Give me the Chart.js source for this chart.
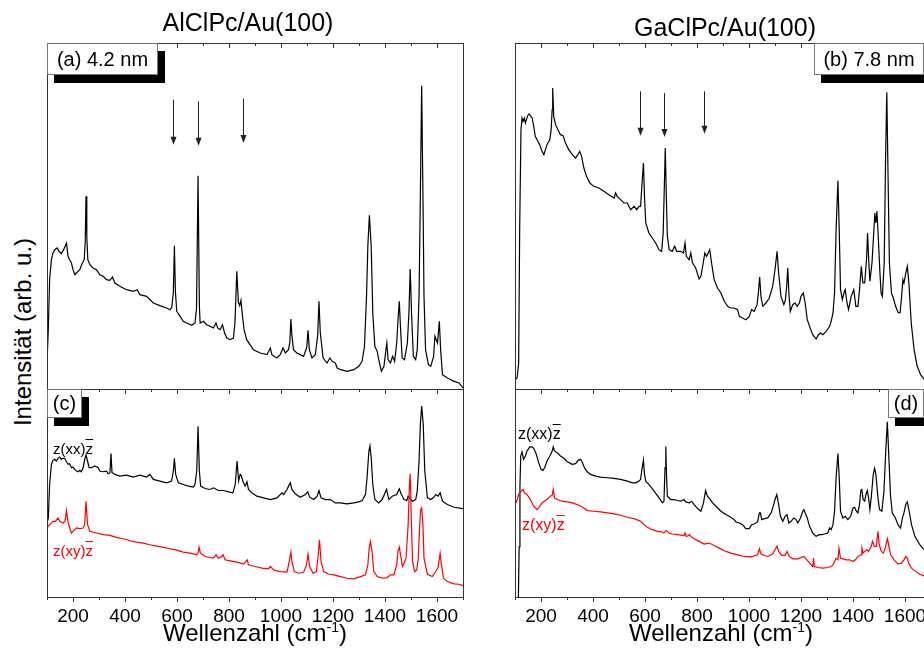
<!DOCTYPE html>
<html>
<head>
<meta charset="utf-8">
<script src="https://cdn.jsdelivr.net/npm/chart.js@4.4.1/dist/chart.umd.min.js"></script>
<style>
  html,body{margin:0;padding:0;background:#fff;}
  body{width:924px;height:657px;overflow:hidden;position:relative;font-family:"Liberation Sans",Arial,sans-serif;}
  .cv{position:absolute;}
  .txt{position:absolute;white-space:nowrap;color:#000;line-height:1;}
  .box{position:absolute;background:#fff;border:1px solid #777;box-sizing:border-box;box-shadow:7px 8px 0 #000;
       font-size:20px;display:flex;align-items:center;justify-content:center;}
  .ov{text-decoration:overline;}
</style>
</head>
<body>
<canvas id="ca" class="cv" width="436" height="366" style="left:37px;top:33px"></canvas>
<canvas id="cc" class="cv" width="436" height="278" style="left:37px;top:379px"></canvas>
<canvas id="cb" class="cv" width="436" height="366" style="left:505px;top:33px"></canvas>
<canvas id="cd" class="cv" width="436" height="278" style="left:505px;top:379px"></canvas>

<div class="txt" style="left:248px;top:22px;transform:translate(-50%,-50%);font-size:25px;">AlClPc/Au(100)</div>
<div class="txt" style="left:725px;top:27px;transform:translate(-50%,-50%);font-size:25px;">GaClPc/Au(100)</div>
<div class="txt" style="left:23px;top:332px;transform:translate(-50%,-50%) rotate(-90deg);font-size:24px;">Intensität (arb. u.)</div>
<div class="txt" style="left:255px;top:632px;transform:translate(-50%,-50%);font-size:24px;">Wellenzahl (cm<sup style="font-size:14px">-1</sup>)</div>
<div class="txt" style="left:721px;top:632px;transform:translate(-50%,-50%);font-size:24px;">Wellenzahl (cm<sup style="font-size:14px">-1</sup>)</div>

<div class="box" style="left:47px;top:43px;width:111px;height:32px;">(a) 4.2 nm</div>
<div class="box" style="left:814px;top:43px;width:110px;height:32px;">(b) 7.8 nm</div>
<div class="box" style="left:47px;top:389px;width:35px;height:29px;">(c)</div>
<div class="box" style="left:888px;top:389px;width:36px;height:29px;">(d)</div>

<div class="txt" style="left:53px;top:441px;font-size:15px;">z(xx)<span class="ov">z</span></div>
<div class="txt" style="left:53px;top:543px;font-size:15px;color:#ff0000;">z(xy)<span class="ov">z</span></div>
<div class="txt" style="left:518px;top:426px;font-size:16px;">z(xx)<span class="ov">z</span></div>
<div class="txt" style="left:522px;top:517px;font-size:16px;color:#ff0000;">z(xy)<span class="ov">z</span></div>

<script>
// ---- tick labels ----
const tickLabels = [200, 400, 600, 800, 1000, 1200, 1400, 1600];
const minorTicks = [100, 300, 500, 700, 900, 1100, 1300, 1500, 1700];

// ---- (a) AlClPc/Au(100), 4.2 nm ----
const aX = [100,105,110,117,123,130,139,146,155,164,175,181,187,194,200,207,213,226,236,243,247,250,253,257,265,277,290,303,316,329,342,352,361,380,406,432,447,457,483,509,534,560,573,580,586,590,594,599,612,624,637,657,669,675,681,686,689,702,714,727,740,750,757,766,775,783,792,804,817,823,830,836,841,846,851,858,868,881,894,920,946,959,965,984,997,1008,1017,1029,1034,1038,1042,1048,1061,1087,1099,1104,1109,1119,1132,1141,1146,1151,1162,1177,1188,1197,1209,1216,1229,1254,1280,1299,1312,1321,1329,1334,1340,1347,1353,1361,1370,1376,1386,1396,1402,1407,1412,1421,1429,1437,1445,1450,1455,1460,1466,1475,1486,1492,1497,1502,1509,1518,1524,1531,1536,1541,1546,1550,1556,1567,1576,1587,1592,1602,1609,1614,1621,1640,1666,1685,1700];
const aY = [78,178,328,388,408,418,423,413,406,418,438,398,388,378,358,343,348,358,378,388,440,578,460,388,373,363,358,343,338,328,326,336,318,308,298,293,298,283,278,258,250,243,238,245,290,430,290,233,218,203,198,191,198,240,640,250,198,203,193,188,183,198,183,178,193,168,153,148,153,200,353,260,250,266,225,178,148,133,118,108,103,123,103,93,103,123,108,118,140,210,160,118,108,98,125,176,118,93,103,160,263,170,93,78,93,83,78,63,58,53,58,68,83,128,278,428,521,428,228,128,113,88,53,68,108,138,88,78,98,83,138,208,263,178,93,88,138,228,360,228,98,88,118,278,578,910,578,278,118,73,68,98,158,138,203,118,43,33,23,18,3];
const aArrowX = [586, 682, 852];
const aArrowFrom = [868, 863, 871];
const aArrowTo = [733, 730, 738];

// ---- (b) GaClPc/Au(100), 7.8 nm ----
const bX = [100,108,114,118,123,127,131,136,140,144,149,154,159,166,172,178,185,195,204,211,217,223,234,239,243,245,249,256,265,275,285,294,307,320,333,342,349,356,365,375,388,403,423,442,461,481,487,493,506,519,532,545,558,568,577,583,588,594,598,603,615,628,641,654,664,670,675,678,682,686,693,705,714,722,738,748,754,759,770,776,783,795,808,815,824,830,837,843,849,856,866,879,892,905,918,930,943,956,963,975,988,1001,1010,1020,1031,1036,1041,1046,1053,1065,1078,1091,1100,1108,1114,1123,1134,1140,1145,1149,1154,1159,1168,1177,1185,1194,1200,1209,1216,1224,1233,1245,1258,1267,1275,1284,1297,1310,1316,1323,1329,1335,1342,1347,1352,1359,1365,1370,1377,1383,1393,1403,1411,1419,1425,1432,1438,1445,1452,1456,1461,1465,1473,1479,1484,1488,1492,1497,1503,1508,1513,1520,1525,1530,1535,1540,1548,1555,1564,1573,1581,1587,1592,1596,1603,1609,1615,1624,1635,1647,1660,1675,1700];
const bY = [28,33,78,478,778,813,803,813,798,808,820,825,820,813,788,758,748,733,713,703,718,733,748,778,838,903,818,793,778,763,760,738,718,703,693,703,713,698,663,638,618,608,603,593,583,573,588,578,568,558,558,538,548,538,548,548,610,678,578,498,468,453,438,418,413,470,628,723,578,458,418,413,428,413,413,408,438,398,388,408,378,363,330,338,378,408,398,408,418,378,328,303,288,263,248,243,243,238,218,213,208,218,238,233,253,288,336,278,248,258,273,308,358,413,348,278,253,268,308,363,278,233,253,258,248,258,278,288,258,208,188,163,150,163,168,163,173,188,203,228,288,478,625,478,298,268,288,298,258,238,278,298,248,248,298,368,318,318,388,468,378,323,378,458,528,498,533,458,358,288,278,378,678,890,628,378,288,273,248,230,228,278,328,318,348,368,318,198,118,68,43,28,15];
const bArrowX = [579, 674, 828];
const bArrowFrom = [893, 888, 893];
const bArrowTo = [760, 756, 766];

// ---- (c) AlClPc polarised: z(xx)z̄ (black), z(xy)z̄ (red) ----
const cXxX = [100,105,110,117,123,130,136,142,149,155,162,168,175,181,187,194,200,207,213,220,226,232,239,245,250,256,262,271,284,297,303,316,329,335,342,346,350,361,380,406,432,457,483,496,509,534,560,579,586,590,595,605,624,644,663,669,676,681,686,691,708,727,740,759,779,798,815,824,831,837,843,848,853,862,869,875,888,907,933,959,984,1004,1010,1023,1029,1036,1042,1055,1074,1094,1103,1110,1126,1139,1146,1154,1171,1190,1209,1229,1254,1280,1299,1312,1325,1331,1338,1342,1347,1353,1361,1376,1389,1406,1415,1428,1445,1455,1463,1473,1484,1489,1494,1505,1518,1524,1531,1536,1541,1547,1553,1563,1576,1586,1595,1604,1612,1621,1640,1666,1700];
const cXxY = [221,236,336,396,408,411,406,414,418,411,414,414,404,396,398,386,388,381,376,374,378,374,386,411,424,406,386,386,391,386,376,374,376,368,371,428,372,366,361,364,358,364,358,366,351,346,341,346,376,414,366,341,336,331,328,336,376,510,376,331,324,321,326,318,318,314,311,336,406,346,366,361,346,331,344,321,311,301,296,291,296,311,306,321,331,341,321,308,298,306,314,298,291,301,318,296,291,291,281,281,278,281,284,288,306,356,436,451,416,336,291,281,291,321,291,301,306,323,306,291,288,301,296,286,291,316,406,516,570,516,376,296,291,296,306,301,311,286,276,268,264];
const cXyX = [100,110,123,133,142,149,162,169,175,181,194,200,213,226,239,245,250,256,265,290,316,342,367,393,419,445,470,496,522,547,573,599,624,650,676,681,685,690,708,727,740,750,759,772,777,785,804,830,856,870,875,901,927,952,959,972,997,1023,1029,1038,1042,1051,1068,1087,1098,1104,1110,1123,1136,1142,1148,1154,1164,1184,1203,1229,1254,1280,1306,1325,1334,1339,1344,1350,1357,1370,1383,1396,1409,1421,1434,1445,1450,1455,1460,1467,1473,1481,1489,1494,1497,1501,1506,1514,1522,1528,1533,1537,1541,1546,1550,1563,1582,1595,1604,1612,1617,1625,1640,1666,1685,1700];
const cXyY = [206,216,226,226,236,226,221,226,258,221,191,196,206,204,206,216,286,216,196,191,186,184,178,174,168,164,161,156,152,148,144,140,134,131,126,131,149,131,121,118,116,126,116,121,126,111,108,104,98,111,96,91,86,84,91,81,76,74,96,134,106,76,71,74,96,128,91,71,76,116,171,106,76,68,66,61,56,54,61,66,96,146,166,136,76,61,58,56,58,66,66,96,136,149,126,91,101,116,216,336,368,236,106,76,81,116,206,261,266,216,116,68,61,76,88,131,96,56,46,39,38,34];

// ---- (d) GaClPc polarised: z(xx)z̄ (black), z(xy)z̄ (red) ----
const dXxX = [113,116,119,122,127,133,140,146,157,166,172,182,191,200,208,214,223,234,243,247,252,262,275,288,301,320,333,343,352,358,367,378,391,410,429,455,481,506,532,551,564,577,583,588,594,598,603,615,635,654,667,673,677,680,683,686,699,712,725,738,750,757,770,779,789,802,815,825,833,840,851,860,873,892,911,924,943,950,963,975,988,1001,1010,1020,1033,1040,1044,1049,1059,1072,1085,1095,1100,1107,1113,1121,1130,1139,1146,1153,1162,1172,1181,1188,1198,1207,1211,1216,1224,1233,1245,1258,1271,1280,1290,1303,1310,1316,1323,1329,1335,1342,1347,1352,1361,1370,1380,1391,1400,1406,1413,1419,1425,1430,1434,1439,1445,1450,1455,1460,1465,1470,1478,1483,1488,1496,1502,1511,1519,1526,1532,1538,1544,1551,1563,1573,1583,1590,1596,1603,1609,1616,1625,1638,1657,1670,1679,1700];
const dXxY = [0,150,330,420,433,411,421,436,448,448,444,426,401,381,378,386,406,421,436,448,436,431,421,414,404,396,398,408,411,404,386,374,366,361,358,356,354,351,346,341,341,346,351,380,409,366,346,336,316,296,281,286,386,449,356,301,291,291,288,286,291,284,281,286,276,264,256,281,318,301,291,281,271,256,246,241,231,224,221,216,204,204,216,218,224,251,251,231,234,236,251,276,291,306,281,241,226,241,246,221,226,236,231,221,236,256,261,251,236,211,191,181,186,186,188,191,206,201,216,256,356,428,356,256,236,241,231,241,266,268,256,251,276,318,321,291,286,306,318,296,261,296,366,384,366,296,261,256,316,436,523,416,306,251,236,216,206,236,251,276,284,256,216,181,156,144,141,135];
const dXyX = [105,114,123,131,136,146,159,172,185,191,204,223,236,243,247,252,262,281,301,320,346,365,378,403,429,455,481,506,532,558,583,596,609,628,648,667,673,681,686,693,705,725,750,754,759,766,771,776,789,808,827,847,866,885,905,930,956,982,1008,1033,1040,1046,1059,1072,1091,1100,1108,1114,1126,1139,1146,1155,1168,1188,1207,1211,1220,1233,1245,1248,1251,1265,1284,1303,1316,1323,1329,1335,1342,1346,1352,1361,1374,1387,1400,1409,1419,1432,1434,1439,1445,1454,1460,1470,1475,1482,1490,1496,1501,1509,1517,1524,1532,1537,1545,1558,1573,1586,1596,1603,1609,1614,1625,1638,1657,1679,1700];
const dXyY = [281,306,316,321,311,306,291,271,261,266,281,291,301,304,321,296,291,286,284,281,274,266,258,256,254,251,248,244,238,234,226,216,208,201,196,194,191,199,196,191,188,186,183,191,181,183,186,181,174,166,158,161,154,146,138,131,126,121,120,126,144,128,124,121,128,141,152,136,124,124,136,121,114,114,120,121,114,101,91,116,91,88,86,88,91,96,106,116,111,146,116,114,111,111,106,111,121,126,146,131,136,141,136,151,166,151,151,196,156,136,131,146,174,156,126,111,98,101,111,121,116,101,86,78,68,61,55];

const pts = (xs, ys) => xs.map((x, i) => ({x: x, y: ys[i]}));

const framePlugin = {
  id: 'frame',
  afterDraw(chart, args, opts) {
    const ctx = chart.ctx, a = chart.chartArea, sx = chart.scales.x, sy = chart.scales.y;
    ctx.save();
    if (opts.arrows) {
      const ar = opts.arrows;
      ctx.strokeStyle = '#222'; ctx.fillStyle = '#222'; ctx.lineWidth = 1;
      ar.x.forEach((v, i) => {
        const px = Math.round(sx.getPixelForValue(v)) + 0.5;
        const y0 = sy.getPixelForValue(ar.from[i]);
        const y1 = sy.getPixelForValue(ar.to[i]);
        ctx.beginPath(); ctx.moveTo(px, y0); ctx.lineTo(px, y1 - 6); ctx.stroke();
        ctx.beginPath(); ctx.moveTo(px - 3, y1 - 8); ctx.lineTo(px + 3, y1 - 8); ctx.lineTo(px, y1); ctx.closePath(); ctx.fill();
      });
    }
    ctx.strokeStyle = '#333'; ctx.lineWidth = 1;
    ctx.strokeRect(a.left + 0.5, a.top + 0.5, a.right - a.left, a.bottom - a.top);
    const drawT = (vals, len) => {
      vals.forEach(v => {
        const px = Math.round(sx.getPixelForValue(v)) + 0.5;
        ctx.beginPath();
        if (opts.bottomTicks) { ctx.moveTo(px, a.bottom); ctx.lineTo(px, a.bottom + len); }
        ctx.moveTo(px, a.top); ctx.lineTo(px, a.top + len);
        ctx.stroke();
      });
    };
    drawT(tickLabels, 5);
    drawT(minorTicks, 3);
    ctx.restore();
  }
};

function makeChart(id, datasets, ymax, bottom, arrows) {
  return new Chart(document.getElementById(id), {
    type: 'line',
    data: { datasets: datasets },
    options: {
      animation: false, responsive: false, maintainAspectRatio: false,
      layout: { padding: { top: 10, left: 10, right: 10, bottom: bottom ? 0 : 10 } },
      plugins: { legend: { display: false }, tooltip: { enabled: false }, frame: { arrows: arrows, bottomTicks: bottom } },
      elements: { point: { radius: 0 }, line: { tension: 0, borderWidth: 1.2 } },
      scales: {
        x: {
          type: 'linear', min: 100, max: 1700, display: bottom,
          grid: { display: false, drawTicks: false }, border: { display: false },
          afterBuildTicks: s => { s.ticks = tickLabels.map(v => ({ value: v })); },
          ticks: { color: '#000', padding: 8, maxRotation: 0, autoSkip: false,
                   callback: v => String(v),
                   font: { family: 'Liberation Sans', size: 19 } },
          afterFit: s => { s.height = bottom ? 60 : 0; }
        },
        y: { min: 0, max: ymax, display: false, afterFit: s => { s.width = 0; } }
      }
    },
    plugins: [framePlugin]
  });
}

makeChart('ca', [{ data: pts(aX, aY), borderColor: '#000' }], 1038, false,
  { x: aArrowX, from: aArrowFrom, to: aArrowTo });
makeChart('cb', [{ data: pts(bX, bY), borderColor: '#000' }], 1038, false,
  { x: bArrowX, from: bArrowFrom, to: bArrowTo });
makeChart('cc', [
  { data: pts(cXyX, cXyY), borderColor: '#ff0000', order: 0 },
  { data: pts(cXxX, cXxY), borderColor: '#000', order: 1 }
], 621, true, null);
makeChart('cd', [
  { data: pts(dXyX, dXyY), borderColor: '#ff0000', order: 0 },
  { data: pts(dXxX, dXxY), borderColor: '#000', order: 1 }
], 621, true, null);
</script>
</body>
</html>
